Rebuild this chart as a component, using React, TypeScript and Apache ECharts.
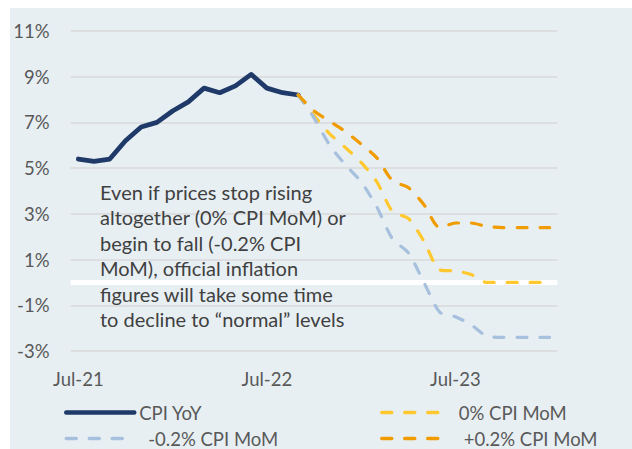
import React, { useEffect, useRef } from "react";
import * as echarts from "echarts";

const categories = [
  "Jul-21", "Aug-21", "Sep-21", "Oct-21", "Nov-21", "Dec-21",
  "Jan-22", "Feb-22", "Mar-22", "Apr-22", "May-22", "Jun-22",
  "Jul-22", "Aug-22", "Sep-22", "Oct-22", "Nov-22", "Dec-22",
  "Jan-23", "Feb-23", "Mar-23", "Apr-23", "May-23", "Jun-23",
  "Jul-23", "Aug-23", "Sep-23", "Oct-23", "Nov-23", "Dec-23", "Jan-24",
];

const cpiYoY = [5.4, 5.3, 5.4, 6.2, 6.8, 7.0, 7.5, 7.9, 8.5, 8.3, 8.6, 9.1, 8.5, 8.3, 8.2];
// projections start at Sep-22
const projStart = 14;
const mom0 = [8.2, 7.3, 6.5, 5.9, 5.25, 4.4, 3.1, 2.8, 1.8, 0.55, 0.5, 0.35, 0.0, 0.0, 0.0, 0.0, 0.0];
const momNeg = [8.2, 7.2, 6.0, 5.15, 4.4, 3.3, 1.9, 1.3, 0.0, -1.3, -1.5, -1.85, -2.35, -2.4, -2.4, -2.4, -2.4];
const momPos = [8.2, 7.5, 7.05, 6.6, 6.05, 5.45, 4.45, 4.15, 3.4, 2.4, 2.6, 2.6, 2.45, 2.4, 2.4, 2.4, 2.4];

const yMin = -3;
const yMax = 11;
const yStep = 2;

const annotation = [
  "Even if prices stop rising",
  "altogether (0% CPI MoM) or",
  "begin to fall (-0.2% CPI",
  "MoM), official inflation",
  "figures will take some time",
  "to decline to \u201cnormal\u201d levels",
];

const FONT = "Lato, 'Open Sans', sans-serif";

function pad(arr: number[], start: number): (number | null)[] {
  const out: (number | null)[] = categories.map(() => null);
  arr.forEach((v, i) => (out[start + i] = v));
  return out;
}

export default function App() {
  const ref = useRef<HTMLDivElement>(null);
  useEffect(() => {
    document.body.style.margin = "0";
    const chart = echarts.init(ref.current!, undefined, { renderer: "svg" });
    const dashStyle = (color: string) => ({
      color,
      width: 3.2,
      type: [10, 13] as any,
      cap: "round" as any,
    });
    const legendText = { fontSize: 18.5, lineHeight: 18, color: "#595959", fontFamily: FONT };
    chart.setOption({
      animation: false,
      backgroundColor: "#ffffff",
      textStyle: { fontFamily: FONT },
      graphic: [
        {
          type: "rect",
          z: -10,
          silent: true,
          shape: { x: 10, y: 8, width: 622, height: 441 },
          style: { fill: "#e7eff3" },
        },
        {
          type: "text",
          left: 100,
          top: 179,
          z: 1,
          silent: true,
          style: {
            text: annotation.join("\n"),
            font: `20px ${FONT}`,
            lineHeight: 25.5,
            fill: "#404040",
          },
        },
      ],
      grid: { left: 70.5, right: 74.5, top: 31, bottom: 98 },
      legend: [
        {
          data: [
            { name: "CPI YoY", lineStyle: { width: 4.5 } },
            {
              name: "-0.2% CPI MoM",
              lineStyle: { width: 3.5 },
              textStyle: { ...legendText, padding: [0, 0, 0, 9] },
            },
          ],
          orient: "vertical",
          left: 64,
          top: 403,
          height: 80,
          padding: 0,
          itemWidth: 68,
          itemHeight: 18,
          itemGap: 7,
          itemStyle: { opacity: 0 },
          textStyle: legendText,
        },
        {
          data: [
            { name: "0% CPI MoM", lineStyle: { width: 3.5 } },
            {
              name: "+0.2% CPI MoM",
              lineStyle: { width: 3.5 },
              textStyle: { ...legendText, padding: [0, 0, 0, 17] },
            },
          ],
          orient: "vertical",
          left: 380,
          top: 403,
          height: 80,
          padding: 0,
          itemWidth: 60,
          itemHeight: 18,
          itemGap: 7,
          itemStyle: { opacity: 0 },
          textStyle: { ...legendText, padding: [0, 0, 0, 12] },
        },
      ],
      xAxis: {
        type: "category",
        data: categories,
        boundaryGap: true,
        axisLine: { show: false, onZero: false },
        axisTick: { show: false },
        axisLabel: {
          interval: 11,
          fontSize: 18.5,
          color: "#595959",
          margin: 18,
          fontFamily: FONT,
        },
        splitLine: { show: false },
      },
      yAxis: {
        type: "value",
        min: yMin,
        max: yMax,
        interval: yStep,
        axisLine: { show: false },
        axisTick: { show: false },
        axisLabel: {
          formatter: (v: number) => `${v}%`,
          fontSize: 18.5,
          color: "#595959",
          margin: 21,
          fontFamily: FONT,
        },
        splitLine: { lineStyle: { color: "#d9d9d9", width: 1.5 } },
      },
      series: [
        {
          name: "CPI YoY",
          type: "line",
          data: pad(cpiYoY, 0),
          symbol: "none",
          lineStyle: { color: "#1f3a68", width: 4.8, join: "round", cap: "round" },
          itemStyle: { color: "#1f3a68" },
          markLine: {
            silent: true,
            z: 1,
            symbol: ["none", "none"],
            label: { show: false },
            lineStyle: { color: "#ffffff", width: 5, type: "solid" },
            data: [{ yAxis: 0 }],
          },
        },
        {
          name: "0% CPI MoM",
          type: "line",
          z: 3,
          data: pad(mom0, projStart),
          symbol: "none",
          smooth: 0.25,
          lineStyle: dashStyle("#ffc82e"),
          itemStyle: { color: "#ffc82e" },
        },
        {
          name: "-0.2% CPI MoM",
          type: "line",
          z: 3,
          data: pad(momNeg, projStart),
          symbol: "none",
          smooth: 0.25,
          lineStyle: dashStyle("#a6c0de"),
          itemStyle: { color: "#a6c0de" },
        },
        {
          name: "+0.2% CPI MoM",
          type: "line",
          z: 3,
          data: pad(momPos, projStart),
          symbol: "none",
          smooth: 0.25,
          lineStyle: dashStyle("#f09c00"),
          itemStyle: { color: "#f09c00" },
        },
      ],
    });
    return () => chart.dispose();
  }, []);
  return <div ref={ref} style={{ width: 632, height: 449 }} />;
}
